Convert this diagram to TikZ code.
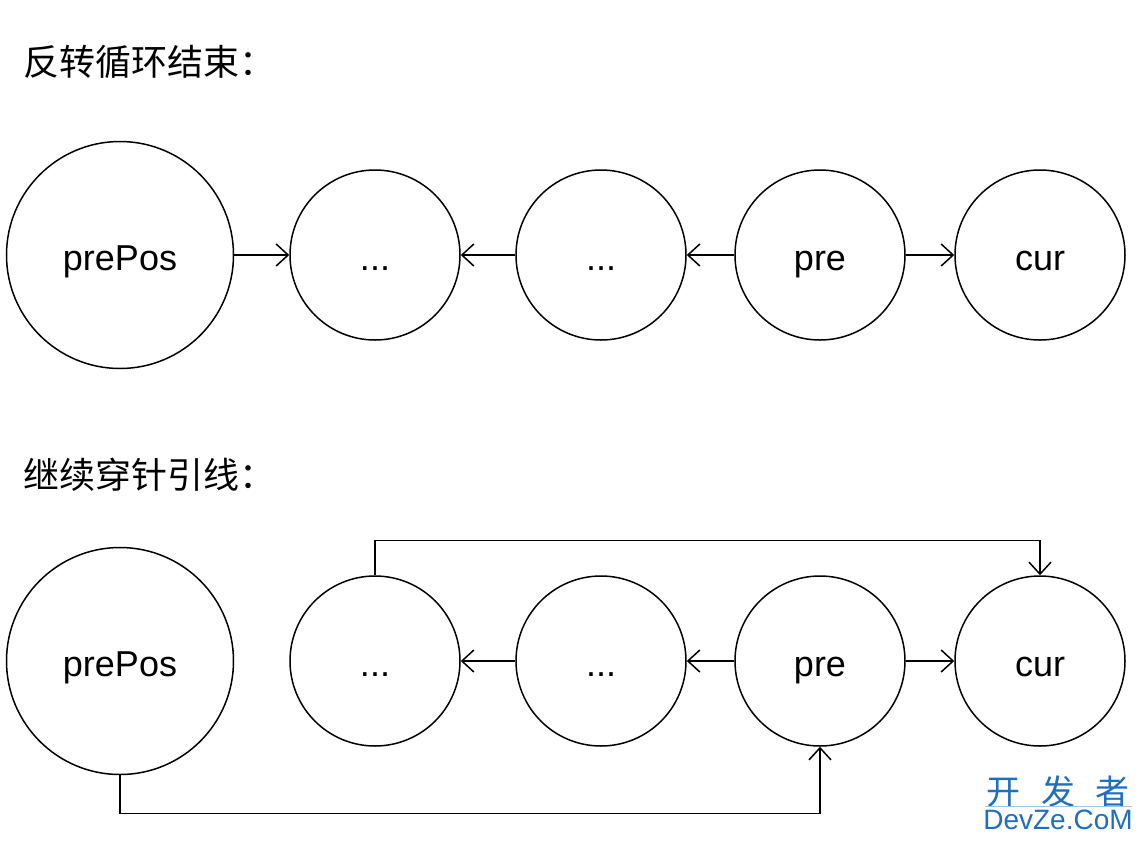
\documentclass[tikz,border=0pt]{standalone}
\usepackage{fontspec}
\setmainfont{Liberation Sans}
\newfontfamily\cjk{Noto Sans CJK SC}
\usepackage{xcolor}
\usetikzlibrary{arrows.meta}
\definecolor{wmblue}{HTML}{1F6FC0}
\definecolor{wmline}{HTML}{9CC8EC}
\tikzset{
  big/.style={draw, circle, line width=0.75pt, minimum size=113.5pt, inner sep=0pt, text height=17pt, text depth=2pt},
  sml/.style={draw, circle, line width=0.75pt, minimum size=85pt, inner sep=0pt, text height=17pt, text depth=2pt},
  lnk/.style={line width=0.75pt, -{Straight Barb[length=6pt,width=11pt,line width=0.75pt]}},
  ttl/.style={anchor=west, font=\cjk\fontsize{18}{22}\selectfont}}

\begin{document}
\begin{tikzpicture}[x=0.5pt, y=-0.5pt, font=\fontsize{18}{22}\selectfont]
\useasboundingbox (0,0) rectangle (1142,842);
% top row: end of the reversal loop
\node[ttl] (t1) at (16,62) {反转循环结束：};
\node[big] (pp1) at (120,255) {prePos};
\node[sml] (da1) at (375,255) {...};
\node[sml] (db1) at (601,255) {...};
\node[sml] (pr1) at (820,255) {pre};
\node[sml] (cu1) at (1040,255) {cur};
\draw[lnk] (pp1) -- (da1);
\draw[lnk] (db1) -- (da1);
\draw[lnk] (pr1) -- (db1);
\draw[lnk] (pr1) -- (cu1);
% bottom row: rewire
\node[ttl] (t2) at (16,475) {继续穿针引线：};
\node[big] (pp2) at (120,661) {prePos};
\node[sml] (da2) at (375,661) {...};
\node[sml] (db2) at (601,661) {...};
\node[sml] (pr2) at (820,661) {pre};
\node[sml] (cu2) at (1040,661) {cur};
\draw[lnk] (db2) -- (da2);
\draw[lnk] (pr2) -- (db2);
\draw[lnk] (pr2) -- (cu2);
\draw[lnk] (da2.north) -- ++(0,-35) -| (cu2.north);
\draw[lnk] (pp2.south) -- ++(0,38) -| (pr2.south);
% watermark
\node[font=\cjk\fontsize{17}{20}\selectfont, text=wmblue] (wm1) at (1058,792) {开\hspace{0.6em}发\hspace{0.6em}者};
\draw[wmline, line width=0.4pt] (985,806) -- (1132,806);
\node[font=\fontsize{14}{17}\selectfont, text=wmblue] (wm2) at (1058,820) {DevZe.CoM};
\end{tikzpicture}
\end{document}
